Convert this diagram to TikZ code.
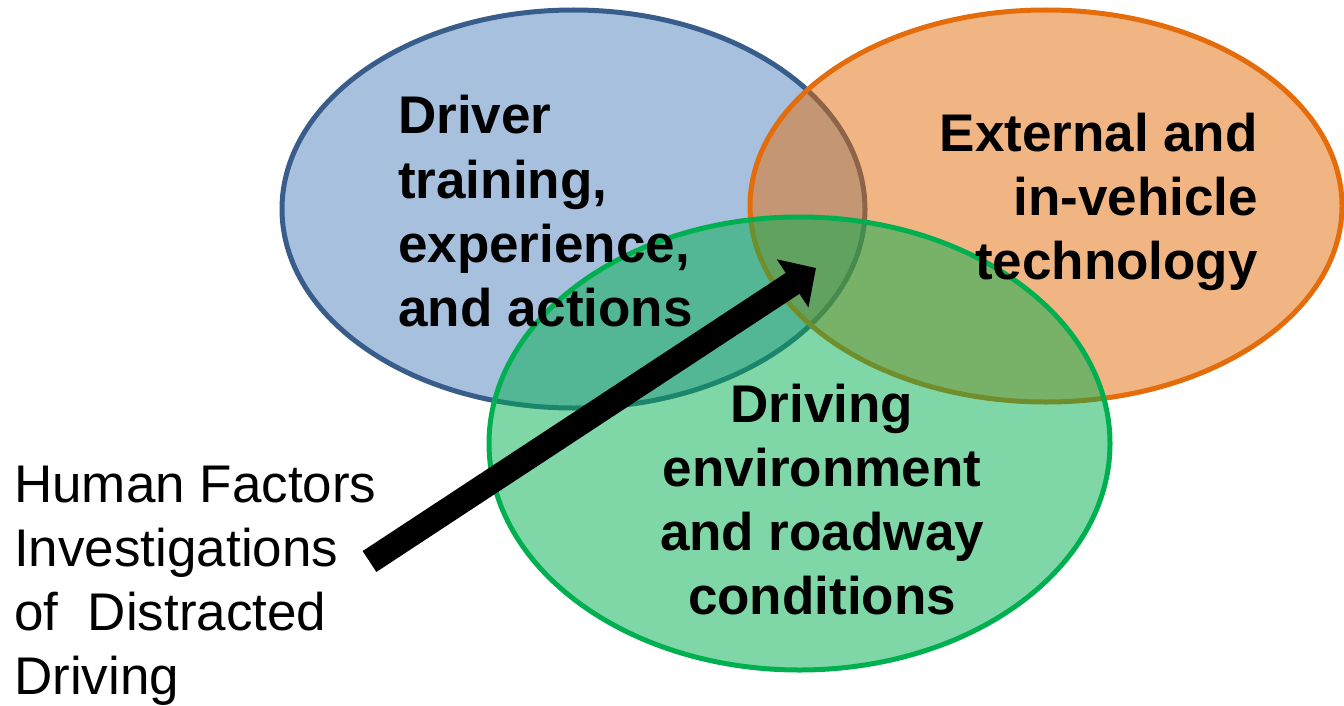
\documentclass[tikz,border=0pt]{standalone}
\usepackage{fontspec}
\setmainfont{Liberation Sans}
\usetikzlibrary{arrows.meta}
\definecolor{bluef}{HTML}{4F81BD}
\definecolor{blueb}{HTML}{385D8A}
\definecolor{orangef}{HTML}{E46C0A}
\definecolor{greenf}{HTML}{00B050}
\tikzset{
  circ/.style={line width=5bp, fill opacity=0.5},
  bold label/.style={inner sep=0pt, font=\fontsize{53bp}{64bp}\selectfont\bfseries},
  plain label/.style={inner sep=0pt, font=\fontsize{53bp}{64bp}\selectfont},
  bigarrow/.style={line width=25bp, -{Triangle[length=28bp,width=56bp]}}
}
\begin{document}
\begin{tikzpicture}[x=1bp,y=-1bp]
\useasboundingbox (0,0) rectangle (1344,705);
\draw[circ, draw=blueb, fill=bluef] (573.5,209) ellipse [x radius=291.5, y radius=199];
\draw[circ, draw=orangef, fill=orangef] (1046,206) ellipse [x radius=296, y radius=196];
\draw[circ, draw=greenf, fill=greenf] (799.5,443.5) ellipse [x radius=310.5, y radius=226.5];
\node[bold label, anchor=base west, align=left] (driver) at (398,326) {Driver\\training,\\experience,\\and actions};
\node[bold label, anchor=base east, align=right] (ext) at (1258,279) {External and\\in-vehicle\\technology};
\node[bold label, anchor=base, align=center] (env) at (822,614) {Driving\\environment\\and roadway\\conditions};
\node[plain label, anchor=base west, align=left] (hf) at (14,694) {Human Factors\\Investigations\\of~~Distracted\\Driving};
\coordinate (tail) at (369.5,561.5);
\coordinate (tip) at (816,268);
\draw[bigarrow] (tail) -- (tip);
\end{tikzpicture}
\end{document}
